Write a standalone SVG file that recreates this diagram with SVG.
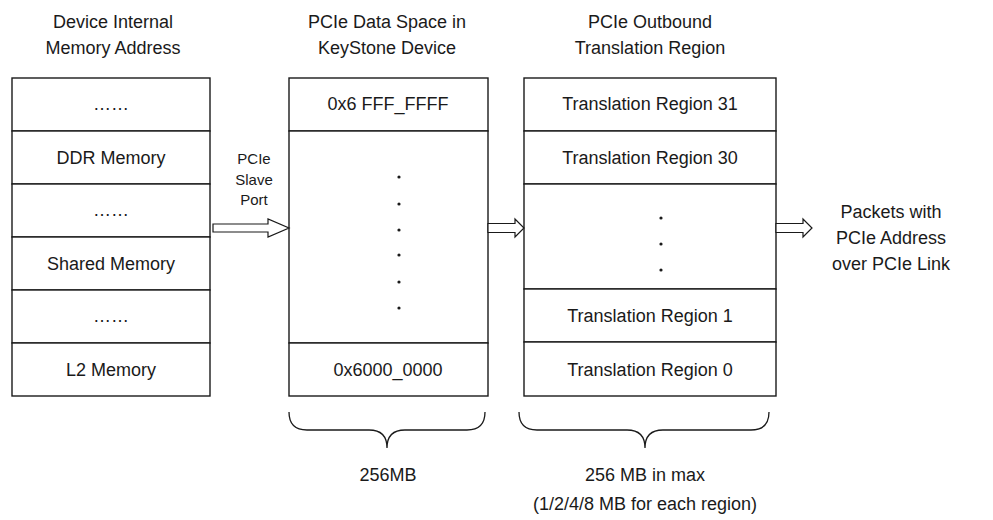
<svg xmlns="http://www.w3.org/2000/svg" width="993" height="520" viewBox="0 0 993 520">
<style>
.box{fill:#fff;stroke:#1a1a1a;stroke-width:1.4}
.t{font-family:"Liberation Sans",Arial,sans-serif;font-size:18px;fill:#1a1a1a;text-anchor:middle}
.s{font-size:15px}
.arr{fill:#fff;stroke:#1a1a1a;stroke-width:1.2}
.br{fill:none;stroke:#1a1a1a;stroke-width:1.3}
.dot{fill:#1a1a1a}
</style>
<rect width="993" height="520" fill="#fff"/>
<g id="headers">
<text class="t" x="113" y="28">Device Internal</text>
<text class="t" x="113" y="54">Memory Address</text>
<text class="t" x="387" y="28">PCIe Data Space in</text>
<text class="t" x="387" y="54">KeyStone Device</text>
<text class="t" x="650" y="28">PCIe Outbound</text>
<text class="t" x="650" y="54">Translation Region</text>
</g>
<g id="device-memory">
<rect class="box" x="12" y="78" width="198" height="53"/>
<rect class="box" x="12" y="131" width="198" height="53"/>
<rect class="box" x="12" y="184" width="198" height="53"/>
<rect class="box" x="12" y="237" width="198" height="53"/>
<rect class="box" x="12" y="290" width="198" height="53"/>
<rect class="box" x="12" y="343" width="198" height="53"/>
<text class="t" x="111" y="110">……</text>
<text class="t" x="111" y="164">DDR Memory</text>
<text class="t" x="111" y="216">……</text>
<text class="t" x="111" y="270">Shared Memory</text>
<text class="t" x="111" y="322">……</text>
<text class="t" x="111" y="376">L2 Memory</text>
</g>
<g id="pcie-data-space">
<rect class="box" x="289" y="78" width="199" height="53"/>
<rect class="box" x="289" y="131" width="199" height="212"/>
<rect class="box" x="289" y="343" width="199" height="53"/>
<text class="t" x="388" y="110">0x6 FFF_FFFF</text>
<text class="t" x="388" y="376">0x6000_0000</text>
<circle class="dot" cx="399" cy="177" r="1.6"/>
<circle class="dot" cx="399" cy="204" r="1.6"/>
<circle class="dot" cx="399" cy="230" r="1.6"/>
<circle class="dot" cx="399" cy="255" r="1.6"/>
<circle class="dot" cx="399" cy="282" r="1.6"/>
<circle class="dot" cx="399" cy="308" r="1.6"/>
</g>
<g id="outbound-regions">
<rect class="box" x="524" y="78" width="252" height="53"/>
<rect class="box" x="524" y="131" width="252" height="53"/>
<rect class="box" x="524" y="184" width="252" height="105"/>
<rect class="box" x="524" y="289" width="252" height="53"/>
<rect class="box" x="524" y="342" width="252" height="54"/>
<text class="t" x="650" y="110">Translation Region 31</text>
<text class="t" x="650" y="164">Translation Region 30</text>
<text class="t" x="650" y="322">Translation Region 1</text>
<text class="t" x="650" y="376">Translation Region 0</text>
<circle class="dot" cx="661" cy="218" r="1.6"/>
<circle class="dot" cx="661" cy="244" r="1.6"/>
<circle class="dot" cx="661" cy="270" r="1.6"/>
</g>
<g id="packets-label">
<text class="t" x="891" y="218">Packets with</text>
<text class="t" x="891" y="244">PCIe Address</text>
<text class="t" x="891" y="270">over PCIe Link</text>
</g>
<g id="slave-port-label">
<text class="t s" x="254" y="164">PCIe</text>
<text class="t s" x="254" y="185">Slave</text>
<text class="t s" x="254" y="205">Port</text>
</g>
<g id="connectors">
<path class="arr" d="M213,224 H268 V219 L289,228 L268,237 V232 H213 Z"/>
<path class="arr" d="M488,223.5 H515 V219 L524,228 L515,237 V232.5 H488 Z"/>
<path class="arr" d="M776,223.5 H803 V219 L812,228 L803,237 V232.5 H776 Z"/>
</g>
<g id="braces">
<path class="br" d="M289,412 Q289,430 307,430 H369 Q387,430 387,448 Q387,430 405,430 H467 Q485,430 485,412"/>
<path class="br" d="M519,412 Q519,430 537,430 H627 Q645,430 645,448 Q645,430 663,430 H751 Q769,430 769,412"/>
</g>
<g id="brace-labels">
<text class="t" x="388" y="481">256MB</text>
<text class="t" x="645" y="481">256 MB in max</text>
<text class="t" x="645" y="510">(1/2/4/8 MB for each region)</text>
</g>
</svg>
